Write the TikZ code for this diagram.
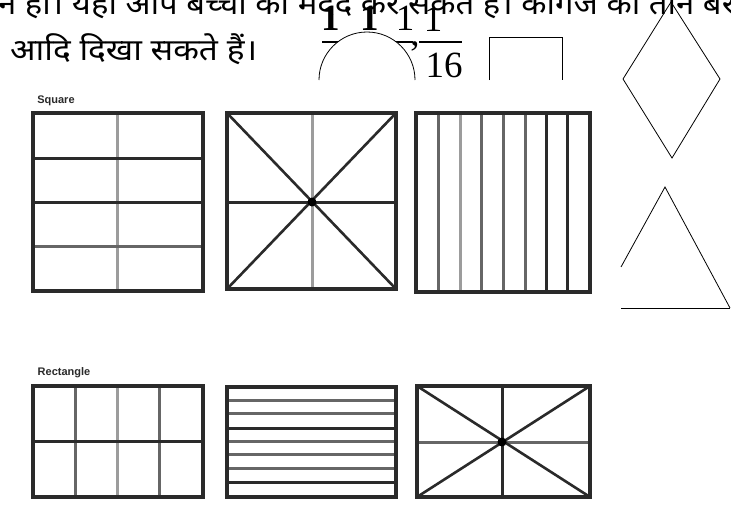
\documentclass[tikz,border=0pt]{standalone}
\usepackage{graphicx}
\usepackage{fontspec}
\setmainfont{Liberation Serif}
\newfontfamily\deva[Script=Devanagari]{Noto Sans}
\newfontfamily\lblfont{Liberation Sans}
\definecolor{gdark}{HTML}{2A2A2A}
\definecolor{gmid}{HTML}{666666}
\definecolor{glight}{HTML}{9C9C9C}
\newsavebox\lineA
\newsavebox\lineB
\newlength\wA
\newlength\wB
\begin{document}
\sbox\lineA{\deva\fontsize{30}{36}\selectfont न हो। यहाँ आप बच्चों की मदद कर सकते हैं। कागज को तीन बर}%
\sbox\lineB{\deva\fontsize{30}{36}\selectfont आदि दिखा सकते हैं।}%
\setlength\wA{\wd\lineA}%
\setlength\wB{\wd\lineB}%
\pgfmathsetmacro\sxA{737/\wA}%
\pgfmathsetmacro\sxB{247/\wB}%
\begin{tikzpicture}[x=1pt,y=-1pt,
  gline/.style={line width=3pt},
  frame/.style={line width=3.3pt,draw=gdark},
  diag/.style={line width=2.6pt,draw=gdark},
  thinline/.style={line width=0.8pt,draw=black},
  frac/.style={font=\fontsize{37}{40}\selectfont,inner sep=0pt,anchor=base},
  lbl/.style={font=\lblfont\bfseries\fontsize{11}{12}\selectfont,text=gdark,inner sep=0pt}]
\useasboundingbox (0,0) rectangle (731,506);
\clip (0,0) rectangle (731,506);
\fill[white] (0,0) rectangle (731,506);

% text lines
\node[anchor=base west,inner sep=0pt] (t1) at (-2,14) {\scalebox{\sxA}[1]{\usebox\lineA}};
\node[anchor=base west,inner sep=0pt] (t2) at (10,60) {\scalebox{\sxB}[1]{\usebox\lineB}};

% fractions
\node[frac] (n1) at (331,30) {\bfseries 1};
\node[frac] (n2) at (370,30) {\bfseries 1};
\node[frac] (n3) at (405,30) {1};
\node[frac] (n4) at (433,31) {1};
\node[frac] (d4) at (444,77) {16};
\node[frac] (cm) at (415,45) {,};
\draw[line width=1.6pt] (322,42) -- (352,42);
\draw[line width=1.6pt] (382,42) -- (413,42);
\draw[line width=1.6pt] (419,42) -- (462,42);
% arc covering
\draw[thinline,fill=white] (319,80) arc[start angle=180,end angle=360,radius=48];
% small square
\draw[thinline] (489,80) -- (489,37) -- (562,37) -- (562,80);
% diamond
\coordinate (dT) at (671,2);
\coordinate (dR) at (720,79);
\coordinate (dB) at (672,158);
\coordinate (dL) at (623,79);
\draw[thinline] (dT) -- (dR) -- (dB) -- (dL) -- cycle;
% triangle
\coordinate (tA) at (665,187);
\coordinate (tL) at (621,267);
\coordinate (tR) at (730,308);
\coordinate (tB) at (621,308);
\draw[thinline] (tL) -- (tA) -- (tR);
\draw[thinline] (tB) -- (tR);

% labels
\node[lbl] (lsq) at (56,101) {Square};
\node[lbl] (lre) at (64,373) {Rectangle};

% Square 1
\draw[gline,glight] (117,113) -- (117,291);
\draw[gline,gdark] (33,158) -- (203,158);
\draw[gline,gdark] (33,202) -- (203,202);
\draw[gline,gmid] (33,246) -- (203,246);
\draw[frame] (33,113) rectangle (203,291);

% Square 2
\draw[gline,glight] (312,113) -- (312,289);
\draw[gline,gdark] (227,202) -- (396,202);
\draw[diag] (227,113) -- (396,289);
\draw[diag] (396,113) -- (227,289);
\fill[black] (312,202) circle (4.5);
\draw[frame] (227,113) rectangle (396,289);

% Square 3
\foreach \xx/\cc in {438/gmid,460/glight,481/gmid,503/gmid,525/gmid,546/gdark,567/gdark}
  \draw[gline,\cc] (\xx,113) -- (\xx,292);
\draw[frame] (416,113) rectangle (590,292);

% Rectangle 1
\draw[gline,gmid] (75,386) -- (75,497);
\draw[gline,glight] (117,386) -- (117,497);
\draw[gline,gmid] (159,386) -- (159,497);
\draw[gline,gdark] (33,441) -- (203,441);
\draw[frame] (33,386) rectangle (203,497);

% Rectangle 2
\foreach \yy/\cc in {400/gmid,413/gmid,428/gdark,441/gmid,454/gmid,468/gmid,482/gdark}
  \draw[gline,\cc] (227,\yy) -- (396,\yy);
\draw[frame] (227,387) rectangle (396,497);

% Rectangle 3
\draw[gline,gdark] (502,386) -- (502,497);
\draw[gline,gmid] (417,442) -- (590,442);
\draw[diag] (417,386) -- (590,497);
\draw[diag] (590,386) -- (417,497);
\fill[black] (502,442) circle (4.5);
\draw[frame] (417,386) rectangle (590,497);
\end{tikzpicture}
\end{document}
